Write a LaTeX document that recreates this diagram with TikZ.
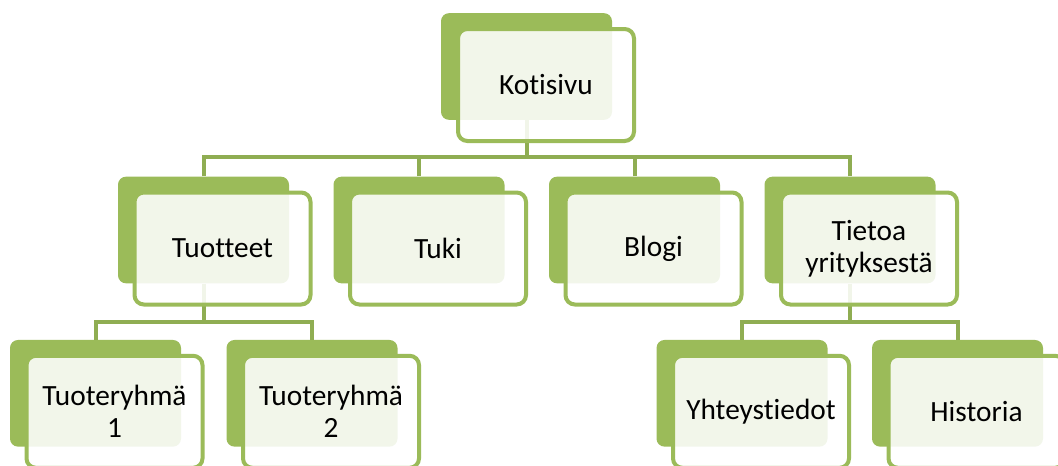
\documentclass[tikz,border=0pt]{standalone}
\usepackage{fontspec}
\setmainfont{Carlito}[Ligatures={NoCommon}]
\definecolor{olive}{HTML}{9BBB59}
\definecolor{conn}{HTML}{8FAD52}
\begin{document}
\begin{tikzpicture}[x=0.75pt,y=-0.75pt,
  backbox/.style={fill=olive,draw=none,rounded corners=6pt,minimum width=128.25pt,minimum height=80pt,inner sep=0pt},
  frontbox/.style={draw=olive,line width=3pt,fill=white,fill opacity=0.88,text opacity=1,rounded corners=7pt,
     minimum width=132pt,minimum height=84pt,inner sep=0pt,align=center,font=\fontsize{22}{24}\selectfont},
  connline/.style={draw=conn,line width=3pt}]
\useasboundingbox (0,0) rectangle (1058,465);
\clip (0,0) rectangle (1058,465);
% back boxes
\node[backbox] (kB) at (526.5,66.5) {};
\node[backbox] (tB) at (203.5,230) {};
\node[backbox] (uB) at (419,230) {};
\node[backbox] (bB) at (634.5,230) {};
\node[backbox] (yB) at (850,230) {};
\node[backbox] (r1B) at (95.5,393.3) {};
\node[backbox] (r2B) at (312,393.3) {};
\node[backbox] (hB) at (742,393.3) {};
\node[backbox] (iB) at (957.5,393.3) {};
% bus coordinates
\coordinate (bus1) at (526.5,157);
\coordinate (bus2) at (203.5,321.7);
\coordinate (bus3) at (850,321.7);
% connectors
\draw[connline] (kB.south) -- (bus1);
\draw[connline] (tB.north) |- (bus1);
\draw[connline] (uB.north) |- (bus1);
\draw[connline] (bB.north) |- (bus1);
\draw[connline] (yB.north) |- (bus1);
\draw[connline] (tB.south) -- (bus2);
\draw[connline] (r1B.north) |- (bus2);
\draw[connline] (r2B.north) |- (bus2);
\draw[connline] (yB.south) -- (bus3);
\draw[connline] (hB.north) |- (bus3);
\draw[connline] (iB.north) |- (bus3);
% front boxes
\node[frontbox] (kF) at (546,85) {Kotisivu};
\node[frontbox] (tF) at (222.5,248.5) {Tuotteet};
\node[frontbox] (uF) at (438,248.5) {Tuki};
\node[frontbox] (bF) at (653.5,248.5) {Blogi};
\node[frontbox] (yF) at (869,248.5) {Tietoa\\yrityksestä};
\node[frontbox] (r1F) at (114.5,411.8) {Tuoteryhmä\\1};
\node[frontbox] (r2F) at (331,411.8) {Tuoteryhmä\\2};
\node[frontbox] (hF) at (761,411.8) {Yhteystiedot};
\node[frontbox] (iF) at (976.5,411.8) {Historia};
\end{tikzpicture}
\end{document}
